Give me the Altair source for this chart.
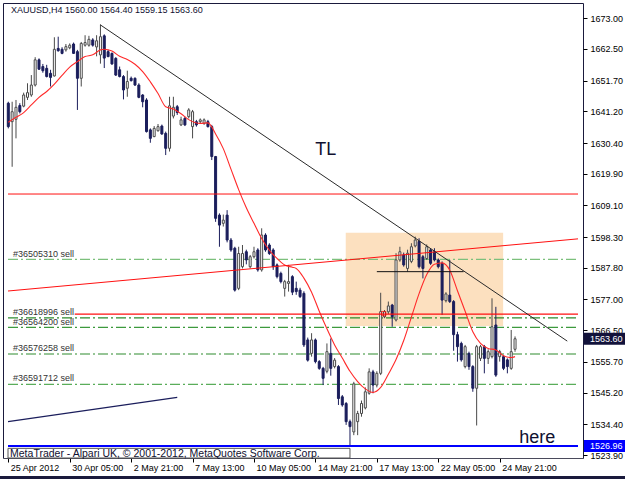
import altair as alt
import pandas as pd

FONT = "Liberation Sans"
NAVY = "#1b1e5c"
TXT = "#101030"

# ---------------- data ----------------
bar_open = [
    1644.0, 1637.7, 1638.5, 1643.2, 1643.0, 1646.0, 1646.8, 1650.2, 1658.8, 1656.5,
    1655.9, 1654.2, 1653.3, 1662.7, 1662.4, 1662.2, 1662.9, 1664.2, 1661.6, 1652.5,
    1663.8, 1663.8, 1665.6, 1663.2, 1660.5, 1667.0, 1661.6, 1661.0, 1659.3, 1655.4,
    1653.1, 1649.1, 1652.5, 1652.5, 1650.2, 1646.8, 1645.1, 1634.9, 1632.6, 1634.6,
    1636.2, 1633.7, 1628.6, 1639.6, 1642.8, 1636.6, 1638.8, 1639.4, 1636.0, 1637.7,
    1637.7, 1637.1, 1637.7, 1636.0, 1625.8, 1605.8, 1603.0, 1605.8, 1597.3, 1594.5,
    1580.8, 1588.2, 1593.3, 1588.2, 1591.6, 1593.9, 1587.1, 1599.0, 1595.6, 1593.9,
    1588.8, 1585.9, 1580.8, 1582.5, 1584.8, 1580.8, 1580.2, 1579.1, 1563.2, 1558.6,
    1563.2, 1555.8, 1553.5, 1552.5, 1558.6, 1554.1, 1554.1, 1543.8, 1541.5, 1535.3,
    1531.8, 1535.3, 1538.1, 1540.0, 1545.0, 1552.3, 1547.8, 1551.8, 1571.1, 1572.8,
    1575.1, 1570.0, 1590.5, 1592.2, 1587.6, 1590.0, 1595.3, 1596.8, 1591.6, 1591.0,
    1593.9, 1593.3, 1590.5, 1589.35, 1576.6, 1578.5, 1576.3, 1565.0, 1562.0, 1554.1,
    1558.6, 1554.1, 1546.7, 1556.9, 1560.9, 1556.9, 1557.5, 1568.3, 1557.5, 1557.5,
    1556.4, 1553.5, 1560.0,
]
bar_high = [
    1644.5, 1644.5, 1645.1, 1644.0, 1647.6, 1650.8, 1653.6, 1659.7, 1659.3, 1657.4,
    1657.1, 1655.4, 1666.5, 1666.7, 1663.1, 1664.2, 1664.4, 1664.7, 1662.2, 1664.9,
    1667.2, 1667.0, 1666.2, 1667.2, 1670.8, 1667.5, 1662.2, 1661.3, 1659.7, 1656.5,
    1653.6, 1655.1, 1653.1, 1652.8, 1650.8, 1647.1, 1645.7, 1635.4, 1636.2, 1636.9,
    1636.7, 1634.3, 1646.2, 1646.2, 1643.4, 1639.4, 1639.4, 1642.3, 1641.7, 1638.3,
    1638.8, 1638.8, 1638.3, 1636.6, 1626.0, 1606.4, 1606.0, 1607.5, 1598.0, 1595.0,
    1595.0, 1595.6, 1594.0, 1592.2, 1595.0, 1594.5, 1601.3, 1599.6, 1596.2, 1594.5,
    1589.3, 1586.5, 1583.7, 1588.8, 1585.3, 1583.1, 1581.0, 1579.8, 1564.0, 1565.5,
    1563.7, 1556.3, 1554.0, 1562.0, 1563.7, 1557.0, 1554.6, 1544.4, 1542.0, 1536.0,
    1548.9, 1539.0, 1542.5, 1547.0, 1553.5, 1553.0, 1552.5, 1579.3, 1573.4, 1576.3,
    1575.5, 1592.8, 1595.0, 1593.0, 1594.0, 1596.2, 1598.45, 1597.9, 1592.2, 1595.8,
    1594.5, 1594.5, 1591.0, 1590.0, 1579.5, 1590.5, 1576.8, 1566.0, 1562.6, 1561.5,
    1559.2, 1554.6, 1561.5, 1561.5, 1561.5, 1560.0, 1577.4, 1574.5, 1559.8, 1558.0,
    1556.9, 1566.6, 1564.4,
]
bar_low = [
    1635.4, 1622.3, 1632.0, 1640.5, 1642.6, 1645.1, 1646.2, 1649.7, 1655.4, 1654.4,
    1652.8, 1649.7, 1653.1, 1661.6, 1660.7, 1661.6, 1662.4, 1660.8, 1641.7, 1649.7,
    1663.3, 1663.3, 1663.3, 1660.0, 1657.5, 1656.0, 1659.7, 1657.1, 1653.3, 1652.8,
    1645.3, 1646.2, 1651.4, 1649.9, 1645.7, 1642.6, 1634.0, 1630.5, 1632.4, 1634.3,
    1633.2, 1626.3, 1627.5, 1638.8, 1640.0, 1636.2, 1636.2, 1638.8, 1632.0, 1636.0,
    1637.2, 1636.6, 1635.7, 1624.6, 1603.5, 1595.0, 1601.9, 1596.5, 1593.3, 1579.7,
    1580.2, 1587.6, 1589.0, 1587.6, 1591.0, 1586.5, 1586.5, 1593.3, 1592.2, 1587.1,
    1584.2, 1582.5, 1578.0, 1579.7, 1578.5, 1578.6, 1577.5, 1560.8, 1555.8, 1557.5,
    1555.2, 1553.0, 1547.8, 1551.8, 1551.0, 1553.5, 1541.0, 1540.4, 1534.2, 1526.96,
    1530.7, 1530.7, 1537.0, 1539.5, 1544.5, 1545.0, 1547.0, 1551.2, 1570.6, 1572.0,
    1567.7, 1569.5, 1589.9, 1588.2, 1586.5, 1589.4, 1594.8, 1587.6, 1584.2, 1590.5,
    1588.8, 1590.0, 1587.6, 1571.7, 1576.0, 1575.8, 1559.5, 1555.8, 1555.8, 1553.5,
    1553.0, 1545.5, 1534.0, 1556.0, 1551.8, 1555.0, 1556.9, 1550.6, 1555.8, 1552.9,
    1551.8, 1553.0, 1559.15,
]
bar_close = [
    1636.0, 1641.1, 1642.6, 1641.1, 1646.8, 1647.6, 1650.2, 1658.8, 1655.6, 1655.1,
    1653.1, 1652.8, 1662.4, 1661.9, 1661.0, 1663.3, 1663.8, 1661.0, 1652.5, 1664.4,
    1664.7, 1665.8, 1663.8, 1665.3, 1666.7, 1659.4, 1659.9, 1657.4, 1653.6, 1653.1,
    1648.5, 1651.4, 1651.7, 1650.2, 1646.0, 1644.5, 1634.3, 1632.0, 1635.4, 1636.0,
    1633.5, 1628.6, 1643.1, 1642.6, 1640.8, 1638.3, 1636.6, 1641.7, 1641.1, 1636.6,
    1638.3, 1638.3, 1636.0, 1625.8, 1604.7, 1602.4, 1604.1, 1597.3, 1593.9, 1580.2,
    1592.7, 1592.7, 1590.5, 1591.6, 1593.3, 1587.1, 1599.0, 1593.9, 1592.7, 1588.2,
    1584.8, 1583.1, 1583.1, 1583.1, 1579.5, 1579.7, 1578.0, 1561.5, 1556.3, 1563.2,
    1555.8, 1553.5, 1550.1, 1559.2, 1553.5, 1556.3, 1543.2, 1541.0, 1535.3, 1533.6,
    1548.2, 1538.1, 1541.5, 1545.5, 1552.3, 1547.8, 1551.8, 1572.85, 1572.8, 1574.8,
    1571.1, 1590.5, 1593.3, 1588.8, 1592.8, 1595.0, 1597.3, 1588.2, 1587.6, 1595.0,
    1589.35, 1590.5, 1588.2, 1576.8, 1578.9, 1576.3, 1565.0, 1560.9, 1556.4, 1560.9,
    1554.1, 1546.7, 1560.9, 1560.9, 1556.9, 1559.2, 1567.7, 1551.2, 1559.2, 1553.5,
    1554.1, 1559.2, 1563.6,
]

# moving average (bar index, price)
ma_bar = [0, 2, 4, 6, 8, 10, 12, 14, 16, 18, 20, 22, 24, 25, 27, 29, 31, 33, 35, 37,
          39, 41, 43, 45, 47, 50, 52, 54, 56, 58, 60, 62, 64, 66, 68, 70, 72, 74, 75, 77,
          79, 81, 83, 85, 87, 89, 91, 93, 95, 97, 99, 101, 103, 105, 107, 109, 111, 113,
          115, 117, 119, 121, 123, 125, 127, 129, 131, 132]
ma_val = [1637.5, 1639.2, 1640.8, 1643.4, 1646.0, 1648.0, 1650.5, 1653.5, 1656.3, 1658.2,
          1659.9, 1660.5, 1662.2, 1662.4, 1661.8, 1660.0, 1658.9, 1657.3, 1654.8, 1651.3,
          1647.3, 1642.8, 1642.0, 1640.4, 1638.4, 1637.1, 1637.3, 1633.5, 1628.5, 1621.5,
          1614.5, 1608.3, 1603.0, 1597.8, 1593.8, 1591.0, 1588.8, 1588.0, 1587.6, 1584.3,
          1579.5, 1573.0, 1567.0, 1561.5, 1557.0, 1552.5, 1549.0, 1546.5, 1545.3, 1547.0,
          1551.5, 1556.5, 1563.0, 1571.0, 1579.0, 1585.5, 1589.0, 1589.5, 1587.0, 1580.0,
          1573.0, 1566.0, 1562.0, 1560.3, 1559.8, 1557.8, 1557.2, 1557.5]

x_tick_pos = [0, 16, 32, 48, 64, 80, 96, 112, 128]
x_tick_lab = ["25 Apr 2012", "30 Apr 05:00", "2 May 21:00", "7 May 13:00", "10 May 05:00",
              "14 May 21:00", "17 May 13:00", "22 May 05:00", "24 May 21:00"]
y_ticks = [1673.00, 1662.50, 1651.70, 1641.20, 1630.40, 1619.90, 1609.10, 1598.30,
           1587.80, 1577.00, 1566.50, 1555.70, 1545.20, 1534.40, 1523.90]

order_names = ["#36505310 sell", "#36618996 sell", "#36564200 sell", "#36576258 sell", "#36591712 sell"]
order_price = [1590.7, 1570.7, 1567.5, 1558.4, 1548.0]
order_label_price = [1592.5, 1572.6, 1569.4, 1560.3, 1550.1]
order_colors = ["#7cc07c", "#2e8b2e", "#3d9a3d", "#2e8b2e", "#5aad5a"]

X_DOM = [-0.08, 148.4]
Y_DOM = [1522.9, 1678.2]

# box (peach rectangle)
box_x = [87.9, 128.9]
box_y = [1567.95, 1599.8]

# drawn lines: (x1, y1, x2, y2)
tl_line = [23.9, 1670.8, 145.6, 1562.8]
red_slope = [X_DOM[0], 1579.9, X_DOM[1], 1597.7]
red_h1 = [X_DOM[0], 1613.0, X_DOM[1], 1613.0]
red_h2 = [17.3, 1572.0, X_DOM[1], 1572.0]
black_h = [96.0, 1586.5, 118.6, 1586.5]
navy_line = [X_DOM[0], 1535.3, 44.0, 1543.6]
blue_line = [X_DOM[0], 1526.96, X_DOM[1], 1526.96]

bid_price = 1563.60
low_price = 1526.96
marker_pt = [97.8, 1572.2]

header_text = "XAUUSD,H4  1560.00 1564.40 1559.15 1563.60"
credit_text = "MetaTrader - Alpari UK, \u00a9 2001-2012, MetaQuotes Software Corp."

# ---------------- scales / axes ----------------
xs = alt.Scale(domain=X_DOM, nice=False, zero=False)
ys = alt.Scale(domain=Y_DOM, nice=False, zero=False)

label_expr = "[" + ",".join("'" + s + "'" for s in x_tick_lab) + "][round(datum.value / 16)]"
x_axis = alt.Axis(values=x_tick_pos, labelExpr=label_expr, labelAlign="left", labelOffset=2,
                  labelPadding=1, tickSize=4, tickColor="#000000", labelFont=FONT,
                  labelFontSize=9, labelColor="#000000", grid=False, title=None,
                  domainColor="#7a7a7a", domainDash=[1, 1], labelFlush=False,
                  labelOverlap=False, orient="bottom")
y_axis = alt.Axis(orient="right", values=y_ticks, format=".2f", tickSize=4,
                  tickColor="#000000", labelPadding=3, labelFont=FONT, labelFontSize=9,
                  labelColor="#000000", grid=False, title=None, domain=False,
                  labelOverlap=False, labelFlush=False)


def X(f):
    return alt.X(f, type="quantitative", scale=xs, axis=x_axis)


def Y(f):
    return alt.Y(f, type="quantitative", scale=ys, axis=y_axis)


def seg(s, color, width, dash=None):
    df = pd.DataFrame({"x": [s[0]], "y": [s[1]], "x2": [s[2]], "y2": [s[3]]})
    kw = dict(color=color, strokeWidth=width)
    if dash:
        kw["strokeDash"] = dash
    return alt.Chart(df).mark_rule(**kw).encode(x=X("x"), y=Y("y"), x2="x2", y2="y2")


# ---------------- layers ----------------
n = len(bar_open)
bars = pd.DataFrame({"i": list(range(n)), "o": bar_open, "h": bar_high, "l": bar_low, "c": bar_close})
bars["bot"] = [min(a, b) for a, b in zip(bar_open, bar_close)]
bars["top"] = [max(a, b) for a, b in zip(bar_open, bar_close)]
bars["dir"] = ["up" if c >= o else "down" for o, c in zip(bar_open, bar_close)]

dir_fill = alt.Scale(domain=["up", "down"], range=["#ffffff", NAVY])
dir_stroke = alt.Scale(domain=["up", "down"], range=["#4a4a4a", NAVY])

rect_df = pd.DataFrame({"x": [box_x[0]], "x2": [box_x[1]], "y": [box_y[0]], "y2": [box_y[1]]})
peach = alt.Chart(rect_df).mark_rect(color="#fce0bf").encode(x=X("x"), x2="x2", y=Y("y"), y2="y2")

orders = pd.DataFrame({"name": order_names, "p": order_price, "lp": order_label_price,
                       "col": order_colors, "x": [X_DOM[0]] * 5, "x2": [X_DOM[1]] * 5,
                       "tx": [1.2] * 5})
order_lines = alt.Chart(orders).mark_rule(strokeWidth=1.2, strokeDash=[10, 3, 2, 3]).encode(
    x=X("x"), x2="x2", y=Y("p"), color=alt.Color("col:N", scale=None))
order_text = alt.Chart(orders).mark_text(align="left", baseline="middle", font=FONT,
                                         fontSize=9, color="#333333").encode(
    x=X("tx"), y=Y("lp"), text="name:N")

wicks = alt.Chart(bars).mark_rule(strokeWidth=1).encode(
    x=X("i"), y=Y("l"), y2="h",
    color=alt.Color("dir:N", scale=dir_stroke, legend=None))
bodies = alt.Chart(bars).mark_bar(size=2, strokeWidth=1).encode(
    x=X("i"), y=Y("bot"), y2="top",
    fill=alt.Fill("dir:N", scale=dir_fill, legend=None),
    stroke=alt.Stroke("dir:N", scale=dir_stroke, legend=None))

ma_df = pd.DataFrame({"b": ma_bar, "v": ma_val})
ma_line = alt.Chart(ma_df).mark_line(color="#ff2a2a", strokeWidth=1.1, interpolate="monotone").encode(
    x=X("b"), y=Y("v"))

marker = alt.Chart(pd.DataFrame({"x": [marker_pt[0]], "y": [marker_pt[1]]})).mark_point(
    shape="square", size=18, filled=False, color="#ff0000", strokeWidth=1).encode(x=X("x"), y=Y("y"))

credit_box = alt.Chart(pd.DataFrame({"x": [X_DOM[0]], "x2": [89.0], "y": [Y_DOM[0]], "y2": [1526.2]})).mark_rect(
    fill="#ffffff", stroke="#555555", strokeWidth=1).encode(x=X("x"), x2="x2", y=Y("y"), y2="y2")

texts = pd.DataFrame({
    "t": [header_text, credit_text],
    "x": [0.7, 0.45],
    "y": [1675.7, 1524.25],
    "s": [9, 10.5],
})
text_small = alt.Chart(texts).mark_text(align="left", baseline="middle", font=FONT, color=TXT).encode(
    x=X("x"), y=Y("y"), text="t:N", size=alt.Size("s:Q", scale=None))

big = pd.DataFrame({"t": ["TL", "here"], "x": [82.7, 137.8], "y": [1626.3, 1528.0]})
text_big = alt.Chart(big).mark_text(align="center", baseline="alphabetic", font=FONT,
                                    fontSize=18, color=TXT).encode(x=X("x"), y=Y("y"), text="t:N")

pb = pd.DataFrame({"p": [bid_price, low_price], "lo": [bid_price - 2.05, low_price - 2.05],
                   "hi": [bid_price + 2.05, low_price + 2.05],
                   "t": [f"{bid_price:.2f}", f"{low_price:.2f}"],
                   "col": ["#12123a", "#0000ff"]})
price_boxes = alt.Chart(pb).mark_rect().encode(
    x=alt.value(581), x2=alt.value(622), y=Y("lo"), y2="hi", color=alt.Color("col:N", scale=None))
price_text = alt.Chart(pb).mark_text(align="left", baseline="middle", font=FONT, fontSize=9,
                                     color="#ffffff").encode(x=alt.value(587), y=Y("p"), text="t:N")

band = alt.Chart(pd.DataFrame({"k": [0]})).mark_rect(color="#1a1a3c").encode(
    x=alt.value(-3), x2=alt.value(622), y=alt.value(473), y2=alt.value(476))

chart = alt.layer(
    peach,
    order_lines,
    wicks,
    bodies,
    ma_line,
    seg(red_slope, "#ff1010", 1),
    seg(red_h1, "#ff1010", 1),
    seg(red_h2, "#ff1010", 1.2),
    seg(tl_line, "#2a2a2a", 1),
    seg(black_h, "#111111", 1),
    seg(navy_line, NAVY, 1.2),
    credit_box,
    seg(blue_line, "#0000ff", 2),
    marker,
    order_text,
    text_small,
    text_big,
    price_boxes,
    price_text,
    band,
).properties(
    width=580,
    height=455,
    autosize=alt.AutoSizeParams(type="none"),
    padding={"left": 3, "top": 3, "right": 42, "bottom": 21},
    background="#ffffff",
).configure_view(stroke="#1a1a3c", strokeWidth=1)

chart.save("out.html", embed_options={"renderer": "svg", "actions": False})
